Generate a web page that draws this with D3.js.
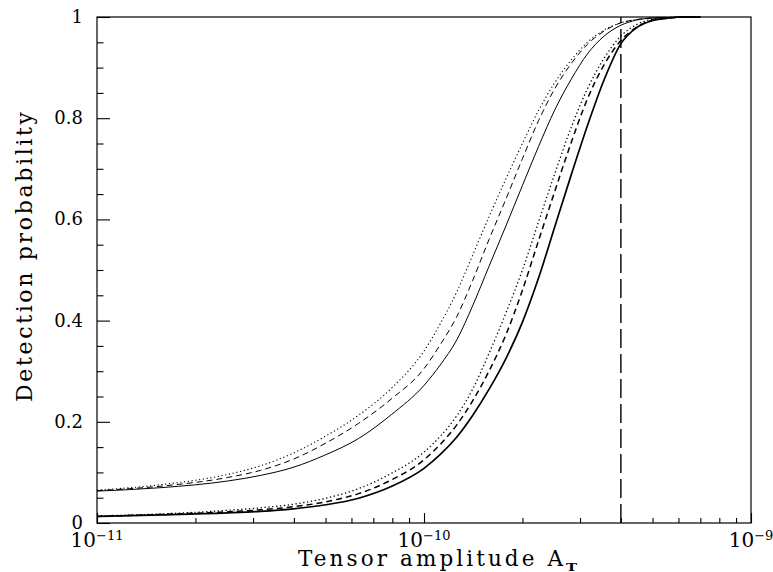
<!DOCTYPE html>
<html>
<head>
<meta charset="utf-8">
<script src="https://cdn.jsdelivr.net/npm/d3@7"></script>
<style>
  html, body { margin: 0; padding: 0; background: #fff; }
  svg { display: block; }
  text { font-family: "DejaVu Serif", "Liberation Serif", serif; fill: #000; }
</style>
</head>
<body>
<svg id="chart" width="773" height="572"></svg>
<script>
// ---- data ----
const amplitude = [1.0e-11, 1.58e-11, 2.51e-11, 3.16e-11, 3.98e-11, 5.01e-11, 6.31e-11, 7.94e-11,
  1.0e-10, 1.12e-10, 1.26e-10, 1.41e-10, 1.58e-10, 1.78e-10, 2.0e-10, 2.24e-10, 2.51e-10,
  2.82e-10, 3.16e-10, 3.55e-10, 3.98e-10, 4.47e-10, 5.01e-10, 5.62e-10, 6.31e-10, 7.0e-10];

const upperSolid  = [0.063, 0.070, 0.083, 0.094, 0.110, 0.135, 0.167, 0.214, 0.272, 0.312, 0.362, 0.430, 0.507, 0.587, 0.667, 0.744, 0.816, 0.877, 0.927, 0.962, 0.983, 0.994, 0.998, 0.999, 1.0, 1.0];
const upperDashed = [0.064, 0.073, 0.090, 0.104, 0.126, 0.158, 0.197, 0.245, 0.305, 0.352, 0.408, 0.480, 0.560, 0.640, 0.720, 0.795, 0.858, 0.908, 0.946, 0.972, 0.988, 0.995, 0.998, 0.999, 1.0, 1.0];
const upperDotted = [0.065, 0.076, 0.096, 0.113, 0.138, 0.172, 0.213, 0.266, 0.340, 0.393, 0.457, 0.530, 0.605, 0.680, 0.750, 0.815, 0.870, 0.915, 0.950, 0.974, 0.988, 0.995, 0.998, 0.999, 1.0, 1.0];
const lowerSolid  = [0.013, 0.016, 0.020, 0.023, 0.028, 0.036, 0.049, 0.072, 0.108, 0.135, 0.170, 0.213, 0.264, 0.325, 0.397, 0.484, 0.585, 0.688, 0.785, 0.875, 0.945, 0.979, 0.993, 0.998, 1.0, 1.0];
const lowerDashed = [0.013, 0.017, 0.022, 0.026, 0.032, 0.042, 0.058, 0.085, 0.125, 0.155, 0.194, 0.242, 0.300, 0.372, 0.460, 0.558, 0.655, 0.752, 0.838, 0.905, 0.952, 0.980, 0.994, 0.998, 1.0, 1.0];
const lowerDotted = [0.014, 0.018, 0.025, 0.030, 0.037, 0.049, 0.068, 0.098, 0.140, 0.171, 0.212, 0.265, 0.335, 0.415, 0.500, 0.595, 0.690, 0.782, 0.858, 0.918, 0.961, 0.985, 0.996, 0.999, 1.0, 1.0];

const thresholdAmplitude = [4.0e-10];

const xMajorTicks = [1e-11, 1e-10, 1e-9];
const xMajorExponents = ["−11", "−10", "−9"];
const xMinorTicks = [2e-11, 3e-11, 4e-11, 5e-11, 6e-11, 7e-11, 8e-11, 9e-11,
                     2e-10, 3e-10, 4e-10, 5e-10, 6e-10, 7e-10, 8e-10, 9e-10];
const yMajorTicks = [0, 0.2, 0.4, 0.6, 0.8, 1];
const yMajorLabels = ["0", "0.2", "0.4", "0.6", "0.8", "1"];
const yMinorTicks = [0.05, 0.1, 0.15, 0.25, 0.3, 0.35, 0.45, 0.5, 0.55, 0.65, 0.7, 0.75, 0.85, 0.9, 0.95];

const xTitle = "Tensor amplitude A";
const xTitleSub = "T";
const yTitle = "Detection probability";

// ---- drawing ----
const svg = d3.select("#chart");
const L = 97, R = 751, T = 17, B = 523;

const x = d3.scaleLog().domain([1e-11, 1e-9]).range([L, R]);
const y = d3.scaleLinear().domain([0, 1]).range([B, T]);

const series = [
  { values: upperDotted, width: 1.1, dash: "1.2,2.6" },
  { values: upperDashed, width: 1.0, dash: "6,4" },
  { values: upperSolid,  width: 1.0, dash: null },
  { values: lowerDotted, width: 1.3, dash: "1.3,2.6" },
  { values: lowerDashed, width: 1.5, dash: "6,4" },
  { values: lowerSolid,  width: 1.7, dash: null }
];

const line = d3.line()
  .x(d => x(d[0]))
  .y(d => y(d[1]))
  .curve(d3.curveMonotoneX);

const plot = svg.append("g");
series.forEach(s => {
  plot.append("path")
    .datum(amplitude.map((a, i) => [a, s.values[i]]))
    .attr("d", line)
    .attr("fill", "none")
    .attr("stroke", "#000")
    .attr("stroke-width", s.width)
    .attr("stroke-dasharray", s.dash);
});

// threshold vertical dashed line
plot.selectAll("line.thr").data(thresholdAmplitude).enter().append("line")
  .attr("x1", d => x(d)).attr("x2", d => x(d))
  .attr("y1", y(0)).attr("y2", y(1))
  .attr("stroke", "#000").attr("stroke-width", 1.4)
  .attr("stroke-dasharray", "19,6");

// axes ticks
const axisStyle = g => {
  g.select(".domain").remove();
  g.selectAll(".tick line").attr("stroke", "#000").attr("stroke-width", 1.1);
  g.selectAll(".tick text").remove();
};

svg.append("g").attr("transform", `translate(${L},0)`)
  .call(d3.axisLeft(y).tickValues(yMajorTicks).tickSize(-13).tickFormat(""))
  .call(axisStyle);
svg.append("g").attr("transform", `translate(${L},0)`)
  .call(d3.axisLeft(y).tickValues(yMinorTicks).tickSize(-6.5).tickFormat(""))
  .call(axisStyle);
svg.append("g").attr("transform", `translate(0,${B})`)
  .call(d3.axisBottom(x).tickValues(xMajorTicks).tickSize(-10).tickFormat(""))
  .call(axisStyle);
svg.append("g").attr("transform", `translate(0,${B})`)
  .call(d3.axisBottom(x).tickValues(xMinorTicks).tickSize(-5).tickFormat(""))
  .call(axisStyle);

// frame
svg.append("rect")
  .attr("x", L).attr("y", T).attr("width", R - L).attr("height", B - T)
  .attr("fill", "none").attr("stroke", "#000").attr("stroke-width", 1.2);

// y tick labels
svg.append("g").selectAll("text").data(yMajorTicks).enter().append("text")
  .attr("x", 83).attr("y", d => y(d) + 6)
  .attr("text-anchor", "end")
  .attr("font-size", 18)
  .text((d, i) => yMajorLabels[i]);

// x tick labels 10^n
const xl = svg.append("g").selectAll("g").data(xMajorTicks).enter().append("text")
  .attr("x", d => x(d)).attr("y", 547)
  .attr("text-anchor", "middle")
  .attr("font-size", 20);
xl.append("tspan").text("10");
xl.append("tspan").attr("dy", -7).attr("font-size", 13).text((d, i) => xMajorExponents[i]);

// axis titles
svg.append("text")
  .attr("x", 298).attr("y", 565.5)
  .attr("font-size", 21.5)
  .attr("textLength", 265).attr("lengthAdjust", "spacing")
  .text(xTitle);
svg.append("text")
  .attr("x", 566).attr("y", 570.5)
  .attr("font-size", 11).attr("font-weight", "bold")
  .attr("textLength", 11).attr("lengthAdjust", "spacingAndGlyphs")
  .text(xTitleSub);

svg.append("text")
  .attr("transform", "translate(32,402) rotate(-90)")
  .attr("font-size", 22)
  .attr("textLength", 290).attr("lengthAdjust", "spacing")
  .text(yTitle);
</script>
</body>
</html>
